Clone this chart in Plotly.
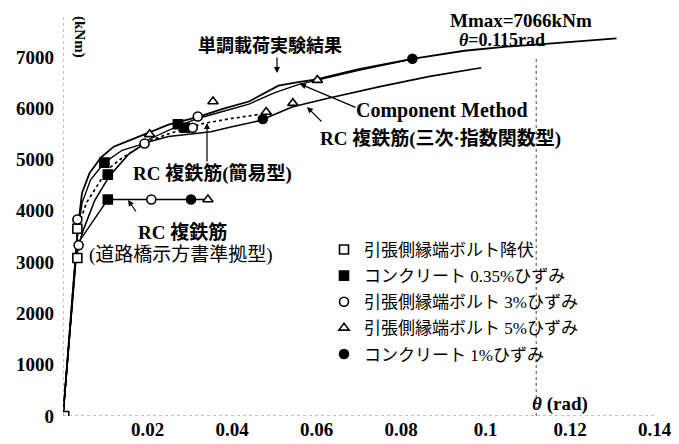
import plotly.graph_objects as go

# ---------------- data ----------------
# 単調載荷実験結果 (experiment)
exp_theta = [0, 0.001, 0.002, 0.0027, 0.0035, 0.0045, 0.0063, 0.009, 0.012, 0.015, 0.019, 0.025,
             0.032, 0.038, 0.044, 0.051, 0.056, 0.060, 0.070, 0.083, 0.095, 0.105, 0.115, 0.122, 0.131]
exp_M = [0, 1000, 2000, 2750, 3650, 4350, 4740, 5040, 5250, 5350, 5480, 5680,
         5830, 5990, 6130, 6440, 6515, 6560, 6760, 6965, 7120, 7200, 7260, 7300, 7360]

# Component Method
cm_theta = [0, 0.001, 0.002, 0.003, 0.0034, 0.0045, 0.0065, 0.0098, 0.014, 0.0193, 0.0205, 0.0272,
            0.0319, 0.038, 0.044, 0.050, 0.056, 0.0602, 0.070, 0.083]
cm_M = [0, 1000, 2000, 3000, 3500, 4150, 4600, 4940, 5180, 5313, 5400, 5650,
        5800, 5940, 6080, 6300, 6470, 6548, 6740, 6965]

# RC 複鉄筋(三次・指数関数型)
rc3_theta = [0, 0.001, 0.002, 0.003, 0.0037, 0.0047, 0.0075, 0.011, 0.0155, 0.0197, 0.025, 0.030,
             0.035, 0.040, 0.0465, 0.0544, 0.063, 0.075, 0.0868, 0.099]
rc3_M = [0, 1000, 2000, 3000, 3330, 3600, 4200, 4680, 5100, 5330, 5450, 5500,
         5540, 5640, 5755, 6030, 6200, 6420, 6620, 6790]

# RC 複鉄筋(簡易型)
rcs_theta = [0, 0.001, 0.002, 0.003, 0.0035, 0.0055, 0.0079, 0.0105, 0.0135, 0.0173, 0.020, 0.025,
             0.029, 0.033, 0.040, 0.0465]
rcs_M = [0, 1000, 2000, 3000, 3650, 4150, 4460, 4800, 5000, 5200, 5350, 5500,
         5600, 5700, 5800, 5880]

# RC 複鉄筋(道路橋示方書準拠型)
rcr_theta = [0, 0.001, 0.002, 0.003, 0.0038, 0.0106, 0.0209, 0.0303, 0.0343]
rcr_M = [0, 1000, 2000, 3000, 3400, 4220, 4220, 4220, 4220]

# event markers
sq_open_theta = [0.0003, 0.0034, 0.0034]          # 引張側縁端ボルト降伏
sq_open_M = [0, 3080, 3650]
sq_fill_theta = [0.0098, 0.0106, 0.0106, 0.0272, 0.0288]   # コンクリート0.35%ひずみ
sq_fill_M = [4940, 4706, 4220, 5688, 5618]
ci_open_theta = [0.0034, 0.0037, 0.0193, 0.0319, 0.0307, 0.0209]  # 引張側縁端ボルト3%ひずみ
ci_open_M = [3830, 3330, 5313, 5837, 5618, 4220]
tri_theta = [0.0205, 0.0355, 0.0481, 0.0544, 0.0602, 0.0343]     # 引張側縁端ボルト5%ひずみ
tri_M = [5490, 6131, 5925, 6098, 6548, 4220]
ci_fill_theta = [0.0303, 0.0473, 0.0827]           # コンクリート1%ひずみ
ci_fill_M = [4220, 5790, 6965]

legend_names = ["引張側縁端ボルト降伏", "コンクリート 0.35%ひずみ", "引張側縁端ボルト 3%ひずみ",
                "引張側縁端ボルト 5%ひずみ", "コンクリート 1%ひずみ"]

x_tickvals = [0.02, 0.04, 0.06, 0.08, 0.1, 0.12, 0.14]
x_ticktext = ["0.02", "0.04", "0.06", "0.08", "0.1", "0.12", "0.14"]
y_tickvals = [0, 1000, 2000, 3000, 4000, 5000, 6000, 7000]

# ---------------- layout geometry ----------------
# the page body adds an 8px margin, so the figure is drawn 8px smaller
OFF = 8
W, H = 679 - OFF, 444 - OFF
X0_WIN, Y0_WIN = 63.5, 416          # window pixel of the data origin
ML, MR, MT = int(X0_WIN - OFF), 0, 0
MB = int(H - (Y0_WIN - OFF))
PX_PER_X = 4225.0
PX_PER_Y = 0.0513
PLOT_H = H - MT - MB
XMAX = (W - ML - MR) / PX_PER_X
YMAX = PLOT_H / PX_PER_Y


def dx(px):  # window px -> data x
    return (px - OFF - ML) / PX_PER_X


def dy(py):  # window px -> data y
    return (H - MB - (py - OFF)) / PX_PER_Y


SERIF = "Liberation Serif, Noto Sans CJK JP, serif"
CJK = "Liberation Serif, Noto Sans CJK JP, sans-serif"

fig = go.Figure()

line_sets = [
    (exp_theta, exp_M, dict(color="black", width=1.8)),
    (cm_theta, cm_M, dict(color="black", width=1.4)),
    (rc3_theta, rc3_M, dict(color="black", width=1.6)),
    (rcs_theta, rcs_M, dict(color="black", width=1.7, dash="dot")),
    (rcr_theta, rcr_M, dict(color="black", width=1.3)),
]
for tx, ty, ln in line_sets:
    fig.add_trace(go.Scatter(x=tx, y=ty, mode="lines", line=ln, showlegend=False, hoverinfo="skip"))

marker_sets = [
    (sq_open_theta, sq_open_M, "square", "white"),
    (sq_fill_theta, sq_fill_M, "square", "black"),
    (ci_open_theta, ci_open_M, "circle", "white"),
    (tri_theta, tri_M, "triangle-up", "white"),
    (ci_fill_theta, ci_fill_M, "circle", "black"),
]
for i, (tx, ty, sym, fill) in enumerate(marker_sets):
    fig.add_trace(go.Scatter(
        x=tx, y=ty, mode="markers", name=legend_names[i], legendgroup=str(i),
        marker=dict(symbol=sym, size=9, color=fill, line=dict(color="black", width=1.6)),
    ))

# dotted axis lines and Mmax line
fig.add_shape(type="line", x0=0, x1=0, y0=0, y1=dy(15), line=dict(color="#888", width=1, dash="dot"))
fig.add_shape(type="line", x0=0, x1=dx(657), y0=0, y1=0, line=dict(color="#888", width=1, dash="dot"))
fig.add_shape(type="line", x0=0.112, x1=0.112, y0=0, y1=dy(57), line=dict(color="#444", width=1, dash="dot"))

ann = []


def text(px, py, s, size=16, family=SERIF, angle=0):
    ann.append(dict(x=dx(px), y=dy(py), xref="x", yref="y", text=s, showarrow=False,
                    font=dict(family=family, size=size, color="black"), textangle=angle))


def arrow(hx, hy, tx, ty):
    ann.append(dict(x=dx(hx), y=dy(hy), xref="x", yref="y", text="", showarrow=True,
                    ax=tx - hx, ay=ty - hy, arrowhead=2, arrowsize=1, arrowwidth=1.2,
                    arrowcolor="black"))


text(270, 45, "<b>単調載荷実験結果</b>", 18, CJK)
arrow(277, 73, 277, 56)
text(521, 20, "<b>Mmax=7066kNm</b>", 19)
text(502, 40, "<b><i>θ</i>=0.115rad</b>", 18)
text(442, 110, "<b>Component Method</b>", 20)
arrow(300, 84, 357, 108)
text(440, 139, "<b>RC 複鉄筋(三次·指数関数型)</b>", 19, CJK)
arrow(307, 107, 323, 123)
text(212, 173, "<b>RC 複鉄筋(簡易型)</b>", 19, CJK)
arrow(207, 123, 207, 163)
text(182, 232, "<b>RC 複鉄筋</b>", 19, CJK)
text(181, 255, "(道路橋示方書準拠型)", 19, CJK)
arrow(128, 200, 137, 213)
text(80, 37, "<b>(kNm)</b>", 15, SERIF, 90)
text(560, 404, "<b><i>θ</i> (rad)</b>", 19)

tickfont = dict(family=SERIF, size=19, color="black", weight="bold")

fig.update_layout(
    width=W, height=H,
    margin=dict(l=ML, r=MR, t=MT, b=MB),
    paper_bgcolor="white", plot_bgcolor="white",
    annotations=ann,
    showlegend=True,
    legend=dict(x=(324 - OFF - ML) / (W - ML - MR), y=1 - (232 - OFF - MT) / PLOT_H,
                xanchor="left", yanchor="top",
                bgcolor="rgba(0,0,0,0)", font=dict(family=CJK, size=17, color="black"),
                tracegroupgap=1, itemwidth=30),
    xaxis=dict(range=[0, XMAX], tickvals=x_tickvals, ticktext=x_ticktext, showgrid=False,
               zeroline=False, showline=False, ticks="", automargin=False, tickfont=tickfont),
    yaxis=dict(range=[0, YMAX], tickvals=y_tickvals, showgrid=False, zeroline=False,
               showline=False, ticks="", ticklabelstandoff=8, automargin=False,
               tickfont=tickfont),
)

fig.write_html("out.html")
